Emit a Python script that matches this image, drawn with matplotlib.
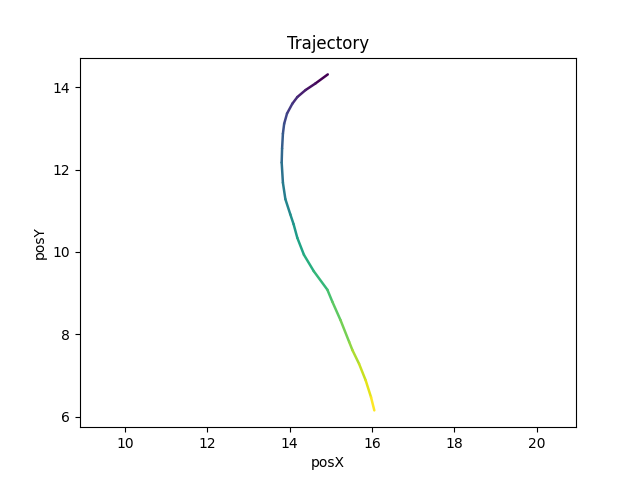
import numpy as np
import matplotlib
matplotlib.use("Agg")
import matplotlib.pyplot as plt
from matplotlib.collections import LineCollection
from matplotlib.ticker import MultipleLocator

# trajectory (start at top, end at bottom)
posX = [14.93, 14.63, 14.39, 14.19, 14.07, 13.94, 13.87, 13.84, 13.82, 13.81,
        13.84, 13.90, 14.02, 14.10, 14.19, 14.35, 14.59, 14.92, 15.04, 15.24,
        15.45, 15.53, 15.69, 15.85, 15.98, 16.06]
posY = [14.31, 14.09, 13.93, 13.76, 13.60, 13.36, 13.11, 12.87, 12.51, 12.17,
        11.68, 11.28, 10.91, 10.67, 10.34, 9.93, 9.53, 9.08, 8.79, 8.34,
        7.81, 7.61, 7.28, 6.88, 6.47, 6.15]

pts = np.column_stack([posX, posY]).reshape(-1, 1, 2)
segs = np.concatenate([pts[:-1], pts[1:]], axis=1)

fig, ax = plt.subplots(figsize=(6.4, 4.8), dpi=100)
lc = LineCollection(segs, cmap='viridis', linewidth=1.8, capstyle='round')
lc.set_array(np.arange(len(segs)))
ax.add_collection(lc)
ax.update_datalim(np.column_stack([posX, posY]))
ax.autoscale_view()
ax.axis('equal')
ax.yaxis.set_major_locator(MultipleLocator(2))

ax.set_title('Trajectory')
ax.set_xlabel('posX')
ax.set_ylabel('posY')
fig.savefig('out.png')
